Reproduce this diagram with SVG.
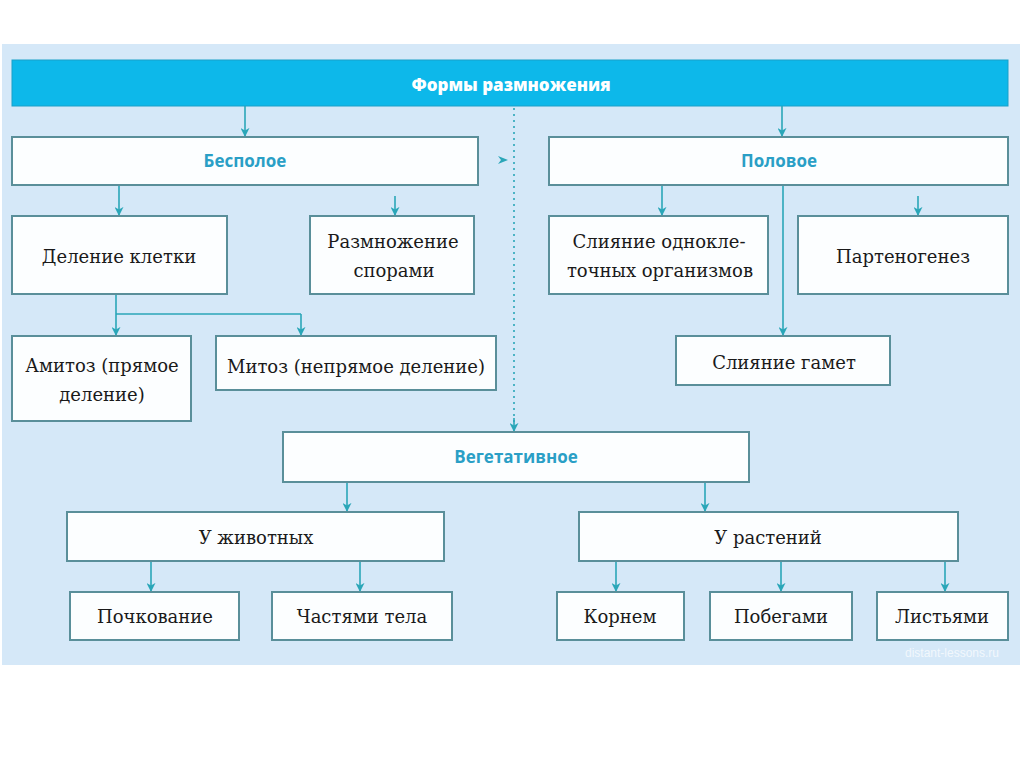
<svg xmlns="http://www.w3.org/2000/svg" width="1024" height="767" viewBox="0 0 1024 767">
<defs>
<marker id="ah" viewBox="0 0 10 10" refX="9" refY="5" markerWidth="9" markerHeight="9" markerUnits="userSpaceOnUse" orient="auto">
<path d="M0,0 L10,5 L0,10 L3,5 z" fill="#2aa6b8"/>
</marker>
<style>
.box{fill:#fcfeff;stroke:#5a8f9a;stroke-width:2}
.t{font-family:"DejaVu Serif","Liberation Serif",serif;font-size:18px;fill:#1a1a1a;text-anchor:middle}
.c{font-family:"Open Sans","Liberation Sans",sans-serif;font-weight:bold;font-size:17px;fill:#2a9fc6;text-anchor:middle}
.h{font-family:"Open Sans","Liberation Sans",sans-serif;font-weight:800;font-size:17px;fill:#ffffff;text-anchor:middle}
.ln{stroke:#2aa6b8;stroke-width:1.6;fill:none}
.ar{stroke:#2aa6b8;stroke-width:1.6;fill:none;marker-end:url(#ah)}
</style>
</defs>
<rect x="0" y="0" width="1024" height="767" fill="#ffffff"/>
<rect x="2" y="44" width="1018" height="621" fill="#d5e8f8"/>

<g id="header">
<rect x="12" y="60" width="996" height="46" fill="#0db8ea" stroke="#1aa0c8" stroke-width="1"/>
<text class="h" x="511" y="91">Формы размножения</text>
</g>

<g id="connectors">
<line class="ar" x1="245" y1="106" x2="245" y2="136"/>
<line class="ar" x1="782" y1="106" x2="782" y2="136"/>
<line class="ar" x1="119" y1="185" x2="119" y2="215"/>
<line class="ar" x1="395" y1="196" x2="395" y2="215"/>
<line class="ar" x1="662" y1="185" x2="662" y2="215"/>
<line class="ar" x1="918" y1="196" x2="918" y2="215"/>
<line class="ar" x1="783" y1="185" x2="783" y2="335"/>
<line class="ar" x1="116" y1="294" x2="116" y2="335"/>
<line class="ln" x1="116" y1="314" x2="301" y2="314"/>
<line class="ar" x1="301" y1="314" x2="301" y2="335"/>
<line x1="514" y1="108" x2="514" y2="422" stroke="#2aa6b8" stroke-width="1.6" stroke-dasharray="2,4"/>
<line class="ar" x1="514" y1="418" x2="514" y2="431"/>
<path d="M498,156 L508,160 L498,164 L501,160 z" fill="#2aa6b8"/>
<line class="ar" x1="347" y1="482" x2="347" y2="511"/>
<line class="ar" x1="705" y1="482" x2="705" y2="511"/>
<line class="ar" x1="151" y1="561" x2="151" y2="591"/>
<line class="ar" x1="360" y1="561" x2="360" y2="591"/>
<line class="ar" x1="616" y1="561" x2="616" y2="591"/>
<line class="ar" x1="781" y1="561" x2="781" y2="591"/>
<line class="ar" x1="945" y1="561" x2="945" y2="591"/>
</g>

<g id="bespoloe">
<rect class="box" x="12" y="137" width="466" height="48"/>
<text class="c" x="245" y="167">Бесполое</text>
</g>
<g id="polovoe">
<rect class="box" x="549" y="137" width="459" height="48"/>
<text class="c" x="779" y="167">Половое</text>
</g>
<g id="delenie">
<rect class="box" x="12" y="216" width="215" height="78"/>
<text class="t" x="119" y="263">Деление клетки</text>
</g>
<g id="spory">
<rect class="box" x="310" y="216" width="164" height="78"/>
<text class="t" x="393" y="248">Размножение</text>
<text class="t" x="394" y="277">спорами</text>
</g>
<g id="sliyanie-odnokl">
<rect class="box" x="549" y="216" width="219" height="78"/>
<text class="t" x="659" y="248">Слияние однокле-</text>
<text class="t" x="660" y="277">точных организмов</text>
</g>
<g id="partenogenez">
<rect class="box" x="798" y="216" width="210" height="78"/>
<text class="t" x="903" y="263">Партеногенез</text>
</g>
<g id="amitoz">
<rect class="box" x="12" y="336" width="179" height="85"/>
<text class="t" x="102" y="372">Амитоз (прямое</text>
<text class="t" x="102" y="401">деление)</text>
</g>
<g id="mitoz">
<rect class="box" x="216" y="336" width="280" height="54"/>
<text class="t" x="356" y="373">Митоз (непрямое деление)</text>
</g>
<g id="sliyanie-gamet">
<rect class="box" x="676" y="336" width="214" height="49"/>
<text class="t" x="784" y="369">Слияние гамет</text>
</g>
<g id="vegetativnoe">
<rect class="box" x="283" y="432" width="466" height="50"/>
<text class="c" x="516" y="463">Вегетативное</text>
</g>
<g id="u-zhivotnyh">
<rect class="box" x="67" y="512" width="377" height="49"/>
<text class="t" x="256" y="544">У животных</text>
</g>
<g id="u-rasteniy">
<rect class="box" x="579" y="512" width="379" height="49"/>
<text class="t" x="768" y="544">У растений</text>
</g>
<g id="pochkovanie">
<rect class="box" x="70" y="592" width="169" height="48"/>
<text class="t" x="155" y="623">Почкование</text>
</g>
<g id="chastyami">
<rect class="box" x="272" y="592" width="180" height="48"/>
<text class="t" x="362" y="623">Частями тела</text>
</g>
<g id="kornem">
<rect class="box" x="557" y="592" width="127" height="48"/>
<text class="t" x="620" y="623">Корнем</text>
</g>
<g id="pobegami">
<rect class="box" x="710" y="592" width="142" height="48"/>
<text class="t" x="781" y="623">Побегами</text>
</g>
<g id="listyami">
<rect class="box" x="877" y="592" width="131" height="48"/>
<text class="t" x="942" y="623">Листьями</text>
</g>
<text x="952" y="657" font-family="Liberation Sans, sans-serif" font-size="12" fill="#ffffff" fill-opacity="0.7" text-anchor="middle">distant-lessons.ru</text>
</svg>
